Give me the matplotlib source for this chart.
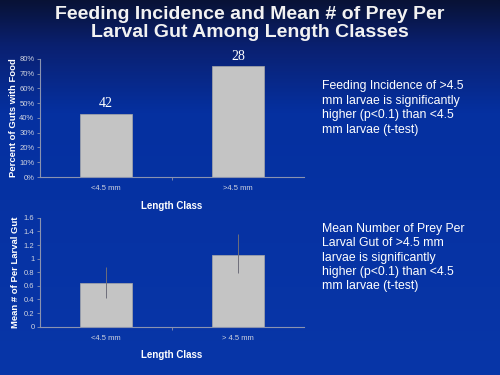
import numpy as np
import matplotlib

matplotlib.use("Agg")
import matplotlib.pyplot as plt  # noqa: E402
from matplotlib.colors import LinearSegmentedColormap  # noqa: E402
from matplotlib.ticker import FuncFormatter  # noqa: E402

plt.rcParams["font.family"] = ["Liberation Sans", "DejaVu Sans"]

# data
classes_top = ["<4.5 mm", ">4.5 mm"]
feeding_pct = [43, 75]
sample_n = ["42", "28"]

classes_bot = ["<4.5 mm", "> 4.5 mm"]
mean_prey = [0.64, 1.06]
prey_lo = [0.42, 0.79]
prey_hi = [0.87, 1.36]

note_top = ("Feeding Incidence of >4.5\nmm larvae is significantly\n"
            "higher (p<0.1) than <4.5\nmm larvae (t-test)")
note_bot = ("Mean Number of Prey Per\nLarval Gut of >4.5 mm\nlarvae is significantly\n"
            "higher (p<0.1) than <4.5\nmm larvae (t-test)")

WHITE = "#ffffff"
TICK = "#d0d4e0"
BAR = "#c4c4c4"
SPINE = "#8a93b0"

fig = plt.figure(figsize=(5, 3.75), dpi=100)

# background gradient
bg = fig.add_axes([0, 0, 1, 1], zorder=-10)
grad = np.linspace(0, 1, 256).reshape(-1, 1)
cmap = LinearSegmentedColormap.from_list(
    "bg", [(0, "#081236"), (0.12, "#0a2070"), (0.3, "#0530a0"), (1, "#0836a8")])
bg.imshow(grad, aspect="auto", cmap=cmap, extent=[0, 1, 0, 1])
bg.axis("off")

fig.text(0.5, 0.985, "Feeding Incidence and Mean # of Prey Per\nLarval Gut Among Length Classes",
         ha="center", va="top", color="#f2f2f2", fontsize=14, fontweight="bold", linespacing=1.1)


def style(ax):
    ax.set_facecolor("none")
    for s in ["top", "right"]:
        ax.spines[s].set_visible(False)
    ax.spines["left"].set_color(SPINE)
    ax.spines["bottom"].set_color(SPINE)
    ax.tick_params(colors=SPINE, labelcolor=TICK, labelsize=5.5, length=2, width=0.6, pad=2)
    ax.set_xlim(-0.5, 1.5)
    ax.set_xticks([0, 1])
    ax.set_xticks([0.5], minor=True)
    ax.tick_params(axis="x", which="major", length=0, pad=6)
    ax.tick_params(axis="x", which="minor", length=2, color=SPINE)


ax1 = fig.add_axes([0.08, 0.528, 0.528, 0.315])
x = np.arange(len(classes_top))
ax1.bar(x, feeding_pct, width=0.39, color=BAR, edgecolor="#a8a8a8", linewidth=0.5)
for xi, v, n in zip(x, feeding_pct, sample_n):
    ax1.text(xi, v + 2.5, n, ha="center", va="bottom", color=WHITE, fontsize=10,
             family="Liberation Serif")
ax1.set_ylim(0, 80)
ax1.set_yticks(range(0, 81, 10))
ax1.yaxis.set_major_formatter(FuncFormatter(lambda v, _: f"{v:.0f}%"))
style(ax1)
ax1.set_xticklabels(classes_top)
ax1.set_xlabel("Length Class", color=WHITE, fontsize=7, fontweight="bold", labelpad=6)
ax1.set_ylabel("Percent of Guts with Food", color=WHITE, fontsize=6.8, fontweight="bold",
               labelpad=1)

ax2 = fig.add_axes([0.08, 0.129, 0.528, 0.29])
x = np.arange(len(classes_bot))
err = [np.array(mean_prey) - np.array(prey_lo), np.array(prey_hi) - np.array(mean_prey)]
ax2.bar(x, mean_prey, width=0.4, color=BAR, edgecolor="#a8a8a8", linewidth=0.5)
ax2.errorbar(x, mean_prey, yerr=err, fmt="none", ecolor="#6e6e7a", elinewidth=0.7,
             capsize=0)
ax2.set_ylim(0, 1.6)
ax2.set_yticks(np.arange(0, 1.61, 0.2))
ax2.yaxis.set_major_formatter(FuncFormatter(lambda v, _: f"{v:g}"))
style(ax2)
ax2.set_xticklabels(classes_bot)
ax2.set_xlabel("Length Class", color=WHITE, fontsize=7, fontweight="bold", labelpad=6)
ax2.set_ylabel("Mean # of Per Larval Gut", color=WHITE, fontsize=6.8, fontweight="bold",
               labelpad=3)

fig.text(0.644, 0.787, note_top, ha="left", va="top", color=WHITE, fontsize=8.8,
         linespacing=1.3)
fig.text(0.644, 0.405, note_bot, ha="left", va="top", color=WHITE, fontsize=8.8,
         linespacing=1.25)

fig.savefig("out.png", dpi=100)
